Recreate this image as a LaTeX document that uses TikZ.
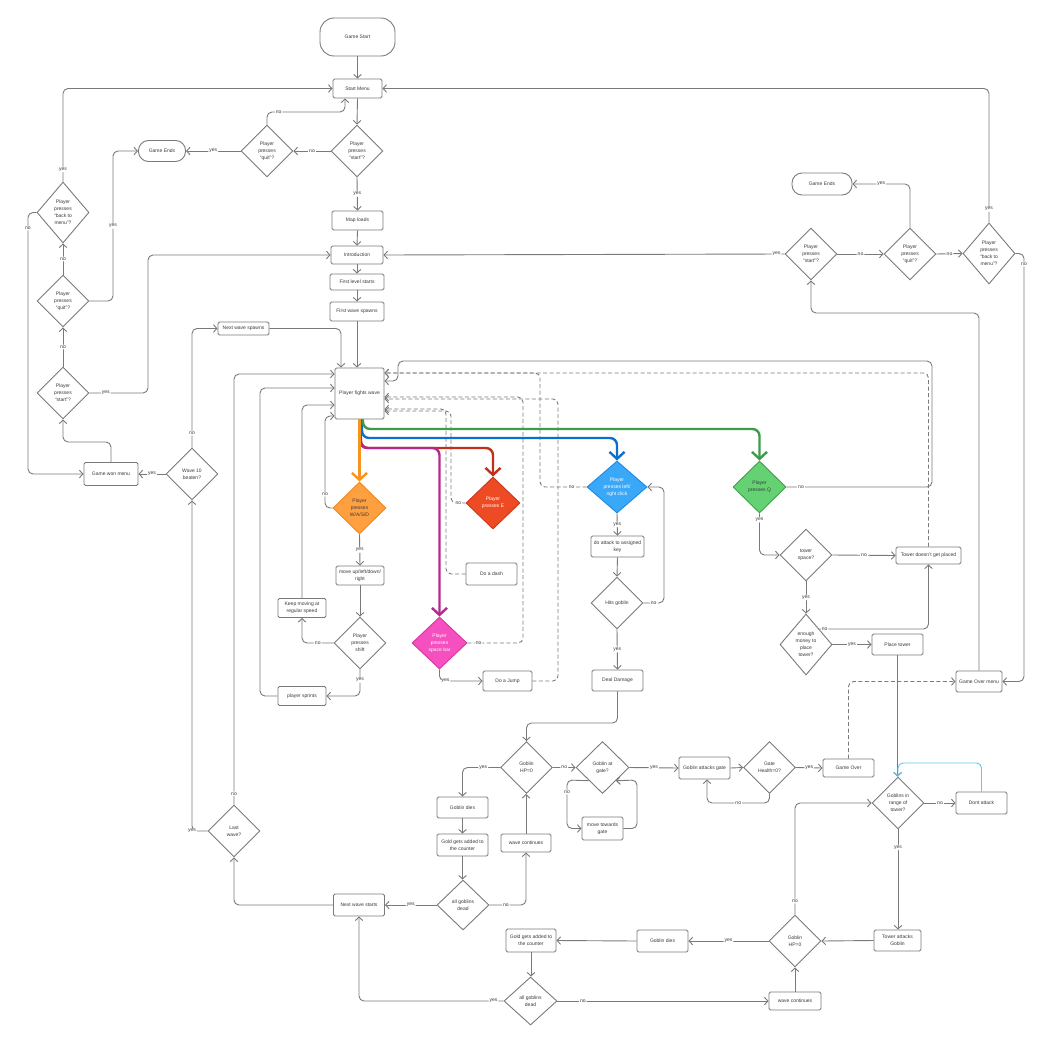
\documentclass[tikz,border=0pt]{standalone}
\usepackage{fontspec}
\setmainfont{Liberation Sans}
\usetikzlibrary{shapes.geometric,arrows.meta}
\definecolor{gc}{HTML}{7A7A7A}
\definecolor{tc}{HTML}{3A3A3A}
\definecolor{orl}{HTML}{F7941D}
\definecolor{orf}{HTML}{FFA040}
\definecolor{ord}{HTML}{F08A1C}
\definecolor{redl}{HTML}{C0301A}
\definecolor{redf}{HTML}{EE4B24}
\definecolor{redd}{HTML}{C8381F}
\definecolor{purl}{HTML}{B5288E}
\definecolor{pinf}{HTML}{F54FC0}
\definecolor{pind}{HTML}{D9359F}
\definecolor{blul}{HTML}{0B6FD0}
\definecolor{bluf}{HTML}{3AA8F8}
\definecolor{blud}{HTML}{1E88E5}
\definecolor{grnl}{HTML}{3E9B49}
\definecolor{grnf}{HTML}{64D273}
\definecolor{grnd}{HTML}{3FA04C}
\definecolor{ltb}{HTML}{5EC8F2}
\tikzset{
  txt/.style={font=\fontsize{5}{7}\selectfont, text=tc, align=center},
  bx/.style 2 args={txt, draw=gc, fill=white, line width=0.9pt, rounded corners=1.5pt, rectangle, minimum width=#1, minimum height=#2, inner sep=0.5pt},
  term/.style 2 args={txt, draw=gc, fill=white, line width=0.9pt, rounded corners=10pt, rectangle, minimum width=#1, minimum height=#2, inner sep=0.5pt},
  dm/.style 2 args={txt, diamond, draw=gc, fill=white, line width=0.9pt, minimum width=#1, minimum height=#2, inner sep=0pt},
  cn/.style={draw=gc, line width=0.9pt, rounded corners=5pt, -{Straight Barb[length=3.5pt,width=7.5pt]}},
  cnd/.style={cn, dash pattern=on 4pt off 2.5pt},
  thk/.style={line width=2.4pt, rounded corners=7pt, -{Straight Barb[length=7pt,width=15pt]}},
  lab/.style={fill=white, inner sep=1pt, font=\fontsize{5}{6}\selectfont, text=tc}
}
\begin{document}
\begin{tikzpicture}[x=1pt,y=-1pt]
\fill[white] (0,0) rectangle (1036,1062);
\useasboundingbox (0,0) rectangle (1036,1062);

% ---- nodes ----
\node[term={75}{38}, rounded corners=14pt] (gs) at (357.5,37) {Game Start};
\node[bx={49}{19}] (sm) at (357.5,88.5) {Start Menu};
\node[dm={52}{52}] (ds) at (357,151) {Player\\presses\\“start”?};
\node[dm={52}{52}] (dq) at (267,151) {Player\\presses\\“quit”?};
\node[term={47}{21}] (ge1) at (162,151) {Game Ends};
\node[bx={51}{19}] (ml) at (357.5,220.5) {Map loads};
\node[bx={52}{18}] (intro) at (357,255) {Introduction};
\node[bx={54}{16}] (fls) at (357,282) {First level starts};
\node[bx={54}{19}] (fws) at (357,311.5) {First wave spawns};
\node[bx={49}{51}] (pfw) at (359.5,393.5) {Player fights wave};
\node[dm={52}{61}] (dbm) at (63,212.5) {Player\\presses\\“back to\\menu”?};
\node[dm={52}{52}] (dq2) at (63,301) {Player\\presses\\“quit”?};
\node[dm={52}{52}] (dsl) at (63,393) {Player\\presses\\“start”?};
\node[bx={54}{23}] (gwm) at (111,474) {Game won menu};
\node[dm={52}{52}] (w10) at (192,474) {Wave 10\\beaten?};
\node[bx={51}{13}] (nws) at (243.5,328.5) {Next wave spawns};
\node[dm={52}{52}] (lw) at (234,831) {Last\\wave?};
\node[bx={51}{22}] (nwst) at (359,905) {Next wave starts};
\node[bx={48}{19}] (ps) at (302,696) {player sprints};
\node[bx={48}{19}] (km) at (302,608) {Keep moving at\\regular speed};
\node[dm={53}{52}, fill=orf, draw=ord, text=tc] (wasd) at (359.5,508) {Player\\presses\\W/A/S/D};
\node[bx={48}{19}] (mv) at (360,575.5) {move up/left/down/\\right};
\node[dm={52}{52}] (sh) at (360,643) {Player\\presses\\shift};
\node[dm={54}{52}, fill=redf, draw=redd, text=white] (e) at (493,503) {Player\\presses E};
\node[bx={51}{22}] (dash) at (491.5,574) {Do a dash};
\node[dm={55}{52}, fill=pinf, draw=pind, text=white] (sp) at (439.5,643) {Player\\presses\\space bar};
\node[bx={49}{20}] (jump) at (507.5,681) {Do a Jump};
\node[dm={60}{52}, fill=bluf, draw=blud, text=white] (bl) at (617,487) {Player\\presses left/\\right click};
\node[bx={53}{21}] (atk) at (617.5,546.5) {do attack to assigned\\key};
\node[dm={52}{52}] (hg) at (617,603) {Hits goblin};
\node[bx={51}{21}] (dd) at (617.5,680.5) {Deal Damage};
\node[dm={53}{52}, fill=grnf, draw=grnd, text=tc] (gq) at (759.5,487) {Player\\presses Q};
\node[dm={52}{52}] (ts) at (806,555) {tower\\space?};
\node[bx={65}{17}] (tdp) at (928.5,555.5) {Tower doesn't get placed};
\node[dm={52}{61}] (em) at (806,644.5) {enough\\money to\\place\\tower?};
\node[bx={51}{21}] (pt) at (897.5,644.5) {Place tower};
\node[bx={46}{21}] (gom) at (979,681.5) {Game Over menu};
\node[dm={52}{52}] (dsr) at (811,254) {Player\\presses\\“start”?};
\node[dm={52}{52}] (dqr) at (910,254) {Player\\presses\\“quit”?};
\node[term={60}{22}] (ge2) at (822,184) {Game Ends};
\node[dm={52}{61}] (dbr) at (989,253.5) {Player\\presses\\“back to\\menu”?};
\node[dm={52}{52}] (hp1) at (526.5,767.5) {Goblin\\HP=0};
\node[bx={51}{21}] (gd1) at (462.5,807.5) {Goblin dies};
\node[bx={51}{22}] (gold1) at (462.5,845) {Gold gets added to\\the counter};
\node[dm={52}{50}] (agd1) at (463,905) {all goblins\\dead};
\node[bx={50}{18}] (wc1) at (526,843) {wave continues};
\node[dm={53}{52}] (gag) at (602.5,767.5) {Goblin at\\gate?};
\node[bx={41}{23}] (mtg) at (602.5,828.5) {move towards\\gate};
\node[bx={51}{22}] (gatk) at (704.5,768) {Goblin attacks gate};
\node[dm={52}{52}] (gh) at (769.5,767.5) {Gate\\Health=0?};
\node[bx={51}{18}] (go) at (848.5,768) {Game Over};
\node[dm={52}{52}] (gir) at (898,803) {Goblins in\\range of\\tower?};
\node[bx={51}{22}] (da) at (981.5,803) {Dont attack};
\node[bx={47}{21}] (tag) at (897.5,940.5) {Tower attacks\\Goblin};
\node[dm={52}{52}] (hp2) at (795,941) {Goblin\\HP=0};
\node[bx={51}{22}] (gd2) at (662.5,941) {Goblin dies};
\node[bx={50}{23}] (gold2) at (531,940.5) {Gold gets added to\\the counter};
\node[dm={53}{48}] (agd2) at (530.5,1001) {all goblins\\dead};
\node[bx={52}{18}] (wc2) at (795,1001) {wave continues};

% ---- main column ----
\draw[cn] (gs.south) -- (sm.north);
\draw[cn] (sm.south) -- (ds.north);
\draw[cn] (ds.south) -- node[lab]{yes} (ml.north);
\draw[cn] (ds.west) -- node[lab]{no} (dq.east);
\draw[cn] (dq.west) -- node[lab]{yes} (ge1.east);
\draw[cn] (dq.north) -- (267,112) -- node[lab,pos=.15]{no} (345,112) -- (sm.south -| 345,0);
\draw[cn] (ml.south) -- (intro.north);
\draw[cn] (intro.south) -- (fls.north);
\draw[cn] (fls.south) -- (fws.north);
\draw[cn] (fws.south) -- (fws.south |- pfw.north);

% ---- left column ----
\draw[cn] (dbm.north) -- node[lab,pos=.13]{yes} (dbm.north |- sm.west) -- (sm.west);
\draw[cn] (dbm.west) -- (28,212.5) -- node[lab,pos=.06]{no} (28,474) -- (gwm.west);
\draw[cn] (dq2.north) -- node[lab]{no} (dbm.south);
\draw[cn] (dq2.east) -- (113,301) -- node[lab]{yes} (113,151) -- (ge1.west);
\draw[cn] (dsl.north) -- node[lab]{no} (dq2.south);
\draw[cn] (dsl.east) -- node[lab,pos=.28]{yes} (148,393) -- (148,255) -- (intro.west);
\draw[cn] (gwm.north) -- (111,442) -- (63,442) -- (dsl.south);
\draw[cn] (w10.west) -- node[lab]{yes} (gwm.east);
\draw[cn] (w10.north) -- node[lab,pos=.12]{no} (192,328.5) -- (nws.west);
\draw[cn] (nws.east) -- (341,328.5) -- (pfw.north -| 341,0);
\draw[cn] (lw.west) -- node[lab,pos=1]{yes} (192,831) -- (w10.south);
\draw[cn] (lw.north) -- node[lab,pos=.025]{no} (234,374) -- (pfw.west |- 0,374);
\draw[cn] (nwst.west) -- (234,905) -- (lw.south);
\draw[cn] (ps.west) -- (260,696) -- (260,388) -- (pfw.west |- 0,388);
\draw[cn] (km.north) -- (302,405) -- (pfw.west |- 0,405);
\draw[cn] (wasd.west) -- (325,508) -- node[lab,pos=.15]{no} (325,416) -- (pfw.west |- 0,416);
\draw[cn] (wasd.south) -- node[lab]{yes} (mv.north);
\draw[cn] (mv.south) -- (sh.north);
\draw[cn] (sh.west) -- node[lab]{no} (302,643) -- (km.south);
\draw[cn] (sh.south) -- node[lab,pos=.4]{yes} (360,696) -- (ps.east);

% ---- dashed returns ----
\draw[cnd] (e.west) -- node[lab]{no} (451,503) -- (451,411) -- (pfw.east |- 0,411);
\draw[cnd] (dash.west) -- (446,574) -- (446,409) -- (pfw.east |- 0,409);
\draw[cnd] (sp.east) -- node[lab,pos=.2]{no} (523,643) -- (523,397) -- (pfw.east |- 0,397);
\draw[cnd] (jump.east) -- (558,681) -- (558,399) -- (pfw.east |- 0,399);
\draw[cnd] (bl.west) -- node[lab,pos=.32]{no} (540,487) -- (540,373) -- (pfw.east |- 0,373);
\draw[cnd] (tdp.north) -- (tdp.north |- 0,373) -- (pfw.east |- 0,373);
\draw[cn] (gq.east) -- node[lab,pos=.1]{no} (932,487) -- (932,361) -- (398,361) -- (398,381) -- (pfw.east |- 0,381);

% ---- coloured branches ----
\draw[thk, draw=redl] (pfw.south -| 361,0) -- (361,448) -- (493,448) -- (e.north);
\draw[thk, draw=purl] (pfw.south -| 360,0) -- (360,448) -- (439.5,448) -- (sp.north);
\draw[thk, draw=blul] (pfw.south -| 362,0) -- (362,438) -- (617,438) -- (bl.north);
\draw[thk, draw=grnl] (pfw.south -| 363,0) -- (363,429) -- (759.5,429) -- (gq.north);
\draw[thk, draw=orl] (pfw.south -| 359.5,0) -- (wasd.north);

% ---- attack branch ----
\draw[cn] (sp.south) |- node[lab,pos=.57]{yes} (jump.west);
\draw[cn] (bl.south) -- node[lab]{yes} (atk.north);
\draw[cn] (atk.south) -- (hg.north);
\draw[cn] (hg.east) -- node[lab]{no} (664,603) -- (664,487) -- (bl.east);
\draw[cn] (hg.south) -- node[lab]{yes} (dd.north);
\draw[cn] (dd.south) -- (617.5,723) -- (526.5,723) -- (hp1.north);
\draw[cn] (hp1.west) -- node[lab,pos=.45]{yes} (462.5,767.5) -- (gd1.north);
\draw[cn] (gd1.south) -- (gold1.north);
\draw[cn] (gold1.south) -- (gold1.south |- agd1.north);
\draw[cn] (agd1.west) -- node[lab]{yes} (nwst.east);
\draw[cn] (agd1.east) -- node[lab,pos=.45]{no} (526,905) -- (wc1.south);
\draw[cn] (wc1.north) -- (wc1.north |- hp1.south);
\draw[cn] (hp1.east) -- node[lab]{no} (gag.west);
\draw[cn] (gag.south west) -- (567,780) -- node[lab,pos=.25]{no} (567,828.5) -- (mtg.west);
\draw[cn] (mtg.east) -- (637,828.5) -- (637,780) -- (gag.south east);
\draw[cn] (gag.east) -- node[lab]{yes} (gatk.west);
\draw[cn] (gatk.east) -- (gh.west);
\draw[cn] (gh.south) -- (769.5,803) -- node[lab]{no} (707,803) -- (gatk.south -| 707,0);
\draw[cn] (gh.east) -- node[lab]{yes} (go.west);
\draw[cnd] (go.north) -- (848.5,681.5) -- (gom.west);

% ---- right side ----
\draw[cn] (gom.north) -- (979,313) -- (811,313) -- (dsr.south);
\draw[cn] (dsr.west) -- node[lab,pos=.02]{yes} (intro.east);
\draw[cn] (dsr.east) -- node[lab]{no} (dqr.west);
\draw[cn] (dqr.north) -- (910,184) -- node[lab]{yes} (ge2.east);
\draw[cn] (dqr.east) -- node[lab]{no} (dbr.west);
\draw[cn] (dbr.north) -- node[lab,pos=.1]{yes} (989,88.5) -- (sm.east);
\draw[cn] (dbr.east) -- (1024,253.5) -- node[lab,pos=.025]{no} (1024,681.5) -- (gom.east);
\draw[cn] (gq.south) -- node[lab,pos=.15]{yes} (759.5,555) -- (ts.west);
\draw[cn] (ts.east) -- node[lab]{no} (tdp.west);
\draw[cn] (ts.south) -- node[lab]{yes} (em.north);
\draw[cn] (em.north east) -- node[lab,pos=.05]{no} (928.5,629) -- (tdp.south);
\draw[cn] (em.east) -- node[lab]{yes} (pt.west);
\draw[cn] (pt.south) -- (pt.south |- gir.north);
\draw[cn, draw=ltb] (da.north) -- (981.5,763) -- (898,763) -- (gir.north);
\draw[cn] (gir.east) -- node[lab]{no} (da.west);
\draw[cn] (gir.south) -- node[lab,pos=.18]{yes} (gir.south |- tag.north);
\draw[cn] (tag.west) -- (hp2.east);
\draw[cn] (hp2.north) -- node[lab,pos=.12]{no} (795,803) -- (gir.west);
\draw[cn] (hp2.west) -- node[lab]{yes} (gd2.east);
\draw[cn] (gd2.west) -- (gold2.east);
\draw[cn] (gold2.south) -- (gold2.south |- agd2.north);
\draw[cn] (agd2.west) -- node[lab,pos=.07]{yes} (359,1001) -- (nwst.south);
\draw[cn] (agd2.east) -- node[lab,pos=.12]{no} (wc2.west);
\draw[cn] (wc2.north) -- (hp2.south);
\end{tikzpicture}
\end{document}
